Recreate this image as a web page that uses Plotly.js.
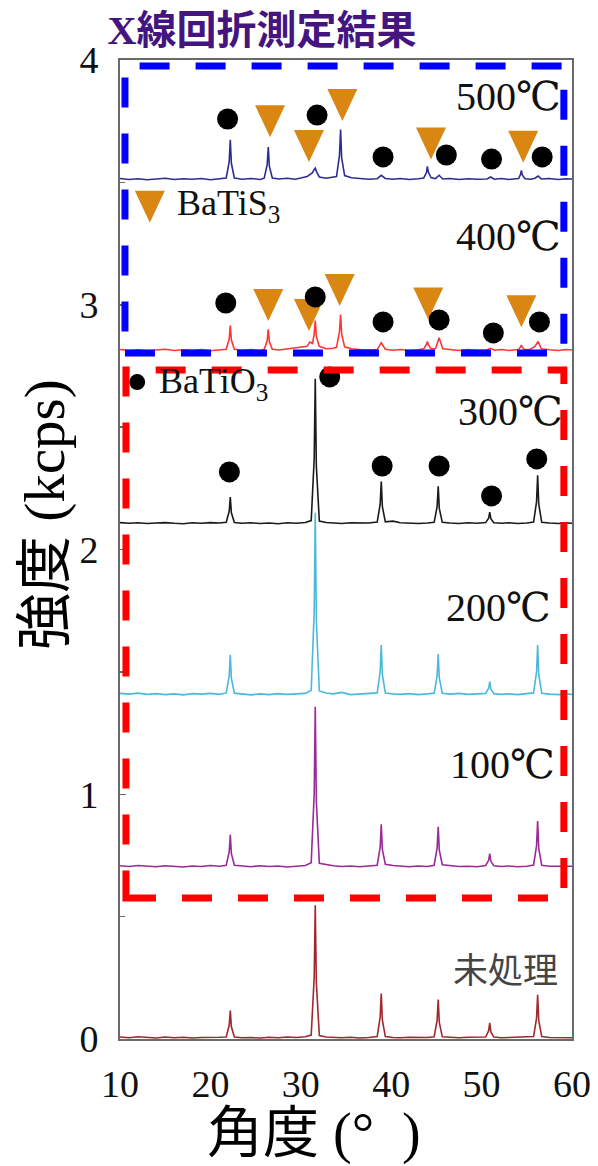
<!DOCTYPE html>
<html>
<head>
<meta charset="utf-8">
<script src="https://cdn.plot.ly/plotly-3.0.1.min.js"></script>
<style>
  html, body { margin: 0; padding: 0; background: #ffffff; }
  #chart { width: 598px; height: 1166px; }
</style>
</head>
<body>
<div id="chart"></div>
<script>
// Diffraction angle grid (2θ, degrees) for the BaTiO3-only patterns
const angleA = [
  10, 11, 12, 13, 14, 15, 16, 17, 18, 19, 20, 21,
  21.75, 22.08, 22.2, 22.32, 22.65,
  23.5, 24.5, 25.5, 26.5, 27.5, 28.5, 29.5, 30.5,
  31.15, 31.48, 31.6, 31.72, 32.05,
  32.8, 33.6, 34.5, 35.5, 36.5, 37.5,
  38.45, 38.78, 38.9, 39.02, 39.35,
  40.2, 41.0, 42.0, 43.0, 44.0,
  44.75, 45.08, 45.2, 45.32, 45.65,
  46.5, 47.5, 48.5, 49.5,
  50.45, 50.78, 50.9, 51.02, 51.35,
  52.2, 53.0, 54.0, 55.0,
  55.75, 56.08, 56.2, 56.32, 56.65,
  57.5, 58.5, 59.3, 60
];

// Angle grid for the sulfurized patterns (BaTiS3 reflections appear)
const angleB = [
  10, 11, 12, 13, 14, 15, 16, 17, 18, 19, 20, 21,
  21.75, 22.08, 22.2, 22.32, 22.65,
  23.5, 24.5, 25.5,
  25.95, 26.28, 26.4, 26.52, 26.85,
  27.6, 28.5, 29.4, 30.2,
  30.7, 31.0, 31.3, 31.48, 31.6, 31.72, 32.05,
  32.8, 33.6,
  33.95, 34.28, 34.4, 34.52, 34.85,
  35.6, 36.5, 37.5,
  38.45, 38.9, 39.35,
  40.2, 41.0, 42.0, 43.0,
  43.6, 43.9, 44.0, 44.1, 44.4,
  44.9, 45.3, 45.7,
  46.5, 47.5, 48.5, 49.5,
  50.6, 51.0, 51.4,
  52.2, 53.0, 53.8,
  54.1, 54.3, 54.4, 54.5, 54.8,
  55.4, 55.9, 56.25, 56.6,
  57.5, 58.5, 59.3, 60
];

// Intensities (kcps, stacked offsets included)
const untreated = [
  0.008, 0.005, 0.009, 0.006, 0.004, 0.008, 0.005, 0.007, 0.004, 0.006, 0.005, 0.007,
  0.008, 0.056, 0.116, 0.050, 0.008,
  0.005, 0.006, 0.004, 0.007, 0.005, 0.008, 0.006, 0.009,
  0.016, 0.250, 0.546, 0.230, 0.014,
  0.008, 0.006, 0.005, 0.007, 0.004, 0.006,
  0.010, 0.090, 0.186, 0.078, 0.010,
  0.006, 0.005, 0.007, 0.005, 0.006,
  0.009, 0.076, 0.161, 0.068, 0.009,
  0.006, 0.005, 0.007, 0.006,
  0.008, 0.034, 0.066, 0.030, 0.008,
  0.005, 0.006, 0.005, 0.007,
  0.010, 0.085, 0.181, 0.076, 0.010,
  0.006, 0.005, 0.007, 0.005
];
const t100 = [
  0.708, 0.705, 0.709, 0.706, 0.704, 0.708, 0.706, 0.703, 0.707, 0.705, 0.709, 0.706,
  0.710, 0.764, 0.834, 0.757, 0.710,
  0.706, 0.704, 0.708, 0.705, 0.707, 0.703, 0.706, 0.709,
  0.720, 1.000, 1.357, 0.970, 0.718,
  0.712, 0.708, 0.705, 0.707, 0.704, 0.706,
  0.710, 0.784, 0.877, 0.775, 0.714,
  0.709, 0.706, 0.704, 0.707, 0.705,
  0.710, 0.780, 0.867, 0.772, 0.712,
  0.709, 0.705, 0.706, 0.704,
  0.709, 0.730, 0.757, 0.727, 0.708,
  0.705, 0.707, 0.704, 0.706,
  0.711, 0.790, 0.891, 0.780, 0.710,
  0.706, 0.705, 0.707, 0.706
];
const t200 = [
  1.412, 1.409, 1.413, 1.408, 1.411, 1.407, 1.410, 1.406, 1.411, 1.409, 1.412, 1.408,
  1.414, 1.483, 1.570, 1.474, 1.413,
  1.409, 1.406, 1.410, 1.407, 1.411, 1.408, 1.410, 1.412,
  1.425, 1.745, 2.150, 1.710, 1.422,
  1.414, 1.410, 1.416, 1.407, 1.409, 1.411,
  1.414, 1.500, 1.610, 1.490, 1.414,
  1.410, 1.408, 1.411, 1.407, 1.410,
  1.413, 1.484, 1.573, 1.475, 1.413,
  1.409, 1.412, 1.408, 1.410,
  1.412, 1.433, 1.460, 1.430, 1.411,
  1.408, 1.410, 1.407, 1.411,
  1.414, 1.500, 1.610, 1.490, 1.413,
  1.409, 1.407, 1.410, 1.408
];
const t300 = [
  2.110, 2.107, 2.109, 2.106, 2.108, 2.110, 2.107, 2.105, 2.109, 2.107, 2.110, 2.108,
  2.111, 2.156, 2.214, 2.150, 2.110,
  2.107, 2.109, 2.106, 2.108, 2.105, 2.109, 2.107, 2.110,
  2.118, 2.370, 2.698, 2.340, 2.116,
  2.110, 2.108, 2.106, 2.109, 2.107, 2.108,
  2.112, 2.185, 2.278, 2.176, 2.113,
  2.116, 2.109, 2.107, 2.106, 2.108,
  2.111, 2.175, 2.258, 2.168, 2.111,
  2.108, 2.106, 2.109, 2.107,
  2.110, 2.128, 2.153, 2.126, 2.109,
  2.107, 2.109, 2.106, 2.108,
  2.112, 2.195, 2.303, 2.186, 2.111,
  2.108, 2.106, 2.109, 2.107
];
const t400 = [
  2.817, 2.813, 2.816, 2.812, 2.815, 2.818, 2.813, 2.816, 2.814, 2.817, 2.812, 2.816,
  2.818, 2.860, 2.915, 2.856, 2.818,
  2.814, 2.817, 2.813,
  2.817, 2.853, 2.900, 2.850, 2.818,
  2.815, 2.819, 2.822, 2.826,
  2.830, 2.848, 2.842, 2.880, 2.935, 2.870, 2.830,
  2.820, 2.822,
  2.826, 2.890, 2.960, 2.880, 2.828,
  2.820, 2.817, 2.815,
  2.817, 2.845, 2.818,
  2.814, 2.817, 2.813, 2.816,
  2.820, 2.838, 2.850, 2.838, 2.820,
  2.820, 2.865, 2.820,
  2.816, 2.813, 2.817, 2.814,
  2.815, 2.822, 2.814,
  2.817, 2.813, 2.816,
  2.817, 2.828, 2.835, 2.826, 2.816,
  2.818, 2.830, 2.850, 2.820,
  2.816, 2.813, 2.817, 2.815
];
const t500 = [
  3.516, 3.512, 3.515, 3.511, 3.514, 3.517, 3.512, 3.515, 3.513, 3.516, 3.511, 3.515,
  3.518, 3.585, 3.674, 3.578, 3.518,
  3.513, 3.516, 3.512,
  3.517, 3.572, 3.644, 3.566, 3.518,
  3.514, 3.517, 3.513, 3.519,
  3.524, 3.532, 3.540, 3.553, 3.558, 3.545, 3.522,
  3.517, 3.520,
  3.524, 3.610, 3.716, 3.600, 3.528,
  3.519, 3.515, 3.513,
  3.515, 3.529, 3.516,
  3.513, 3.516, 3.512, 3.515,
  3.518, 3.540, 3.565, 3.543, 3.520,
  3.515, 3.529, 3.514,
  3.516, 3.512, 3.515, 3.513,
  3.514, 3.522, 3.513,
  3.516, 3.512, 3.515,
  3.516, 3.532, 3.549, 3.530, 3.515,
  3.513, 3.517, 3.526, 3.514,
  3.516, 3.512, 3.515, 3.514
];

// Phase markers placed above the identified reflections
const oxideX500 = [21.9, 31.8, 39.1, 46.1, 51.1, 56.7];
const oxideY500 = [3.759, 3.775, 3.604, 3.612, 3.595, 3.604];
const sulfX500 = [26.6, 30.9, 34.6, 44.4, 54.6];
const sulfY500 = [3.750, 3.649, 3.816, 3.659, 3.646];
const oxideX400 = [21.7, 31.6, 39.1, 45.3, 51.3, 56.4];
const oxideY400 = [3.007, 3.032, 2.930, 2.938, 2.885, 2.930];
const sulfX400 = [26.4, 30.9, 34.3, 44.1, 54.4];
const sulfY400 = [2.999, 2.958, 3.060, 3.005, 2.973];
const oxideX300 = [22.1, 33.2, 39.0, 45.3, 51.1, 56.1];
const oxideY300 = [2.317, 2.705, 2.341, 2.341, 2.219, 2.370];

// Key symbols
const keyOxideX = [11.9], keyOxideY = [2.684];
const keySulfX = [13.3], keySulfY = [3.400];
const keyLabels = ['BaTiS<sub>3</sub>', 'BaTiO<sub>3</sub>'];
const keyLabelX = [16.1, 14.1];
const keyLabelY = [3.405, 2.680];

// Curve labels
const seriesLabels = ['500℃', '400℃', '300℃', '200℃', '100℃', '未処理'];
const labelX = [59.0, 59.0, 59.2, 57.9, 58.3, 58.7];
const labelY = [3.85, 3.277, 2.562, 1.765, 1.12, 0.294];

const xTicks = [10, 20, 30, 40, 50, 60];
const yTicks = [0, 1, 2, 3, 4];

const serif = 'Liberation Serif, DejaVu Serif, Noto Sans CJK JP, serif';
const cjk = 'Noto Sans CJK JP, sans-serif';
const orange = '#d98613';

function line(x, y, color) {
  return {x: x, y: y, type: 'scatter', mode: 'lines',
    line: {color: color, width: 1.6}, hoverinfo: 'skip', showlegend: false};
}
function dots(x, y, size) {
  return {x: x, y: y, type: 'scatter', mode: 'markers',
    marker: {symbol: 'circle', size: size, color: '#000000', line: {width: 0}},
    hoverinfo: 'skip', showlegend: false};
}
// Downward triangles with a fixed pixel size, anchored at data positions
function triShapes(xs, ys) {
  return xs.map((x, i) => ({
    type: 'path', xref: 'x', yref: 'y',
    xsizemode: 'pixel', ysizemode: 'pixel', xanchor: x, yanchor: ys[i],
    path: 'M-15,16 L15,16 L0,-16 Z',
    fillcolor: orange, line: {width: 0}, layer: 'below'
  }));
}

const traces = [
  line(angleA, untreated, '#a0282c'),
  line(angleA, t100, '#9a2a96'),
  line(angleA, t200, '#4cb9d9'),
  line(angleA, t300, '#1a1a1a'),
  line(angleB, t400, '#ff3434'),
  line(angleB, t500, '#2d2d8f'),
  dots(oxideX500, oxideY500, 21),
  dots(oxideX400, oxideY400, 21),
  dots(oxideX300, oxideY300, 21),
  dots(keyOxideX, keyOxideY, 16)
];

const annotations = seriesLabels.map((t, i) => ({
  x: labelX[i], y: labelY[i], xref: 'x', yref: 'y', text: t, showarrow: false,
  xanchor: 'right', yanchor: 'middle',
  font: i === 5 ? {family: cjk, size: 35, color: '#444444'} : {family: serif, size: 40, color: '#111111'}
}));
keyLabels.forEach((t, i) => annotations.push({
  x: keyLabelX[i], y: keyLabelY[i], xref: 'x', yref: 'y', text: t, showarrow: false,
  xanchor: 'left', yanchor: 'middle', font: {family: serif, size: 36, color: '#111111'}
}));

// Axis titles, placed in plot-fraction coordinates
const plotL = 120, plotR = 572, plotT = 60, plotB = 1039;
annotations.push(
  {x: (45 - plotL) / (plotR - plotL), y: (plotB - 515) / (plotB - plotT),
   xref: 'paper', yref: 'paper', text: '強度 (kcps)',
   textangle: -90, showarrow: false, xanchor: 'center', yanchor: 'middle',
   font: {family: serif, size: 57, color: '#000000'}},
  {x: (314 - plotL) / (plotR - plotL), y: (plotB - 1133) / (plotB - plotT),
   xref: 'paper', yref: 'paper', text: '角度 (°  )',
   showarrow: false, xanchor: 'center', yanchor: 'middle',
   font: {family: serif, size: 56, color: '#000000'}}
);

const dashed = (x0, x1, y0, y1, color) => ({
  type: 'rect', xref: 'x', yref: 'y', x0: x0, x1: x1, y0: y0, y1: y1,
  line: {color: color, width: 7, dash: '30px,26px'}, layer: 'above'
});

const layout = {
  width: 598, height: 1166,
  margin: {l: plotL, r: 598 - plotR, t: plotT, b: 1166 - plotB},
  paper_bgcolor: '#ffffff', plot_bgcolor: '#ffffff',
  title: {
    text: '<b>X線回折測定結果</b>',
    font: {family: 'Liberation Serif, Noto Sans CJK JP, serif', size: 40, color: '#44157f'},
    xref: 'container', yref: 'container', x: 262 / 598, y: 1 - 30 / 1166,
    xanchor: 'center', yanchor: 'middle'
  },
  xaxis: {
    range: [10, 60], tickvals: xTicks, ticktext: xTicks.map(String),
    ticks: '', showgrid: false, zeroline: false,
    showline: true, mirror: true, linecolor: '#6a6a6a', linewidth: 2,
    tickfont: {family: serif, size: 38, color: '#111111'},
    ticklabelstandoff: 10, fixedrange: true
  },
  yaxis: {
    range: [0, 4], tickvals: yTicks, ticktext: yTicks.map(String),
    ticks: 'inside', ticklen: 6, tickcolor: '#6a6a6a', tickwidth: 1.5,
    minor: {dtick: 0.5, ticks: 'inside', ticklen: 5, tickcolor: '#6a6a6a', showgrid: false},
    showgrid: false, zeroline: false,
    showline: true, mirror: true, linecolor: '#6a6a6a', linewidth: 2,
    tickfont: {family: serif, size: 38, color: '#111111'},
    ticklabelstandoff: 12, fixedrange: true
  },
  shapes: [
    ...triShapes(sulfX500, sulfY500),
    ...triShapes(sulfX400, sulfY400),
    ...triShapes(keySulfX, keySulfY),
    dashed(10.55, 59.1, 2.803, 3.975, '#0000ff'),
    dashed(10.66, 59.1, 0.576, 2.733, '#ff0000')
  ],
  annotations: annotations,
  showlegend: false
};

Plotly.newPlot('chart', traces, layout, {staticPlot: true, displayModeBar: false});
</script>
</body>
</html>
